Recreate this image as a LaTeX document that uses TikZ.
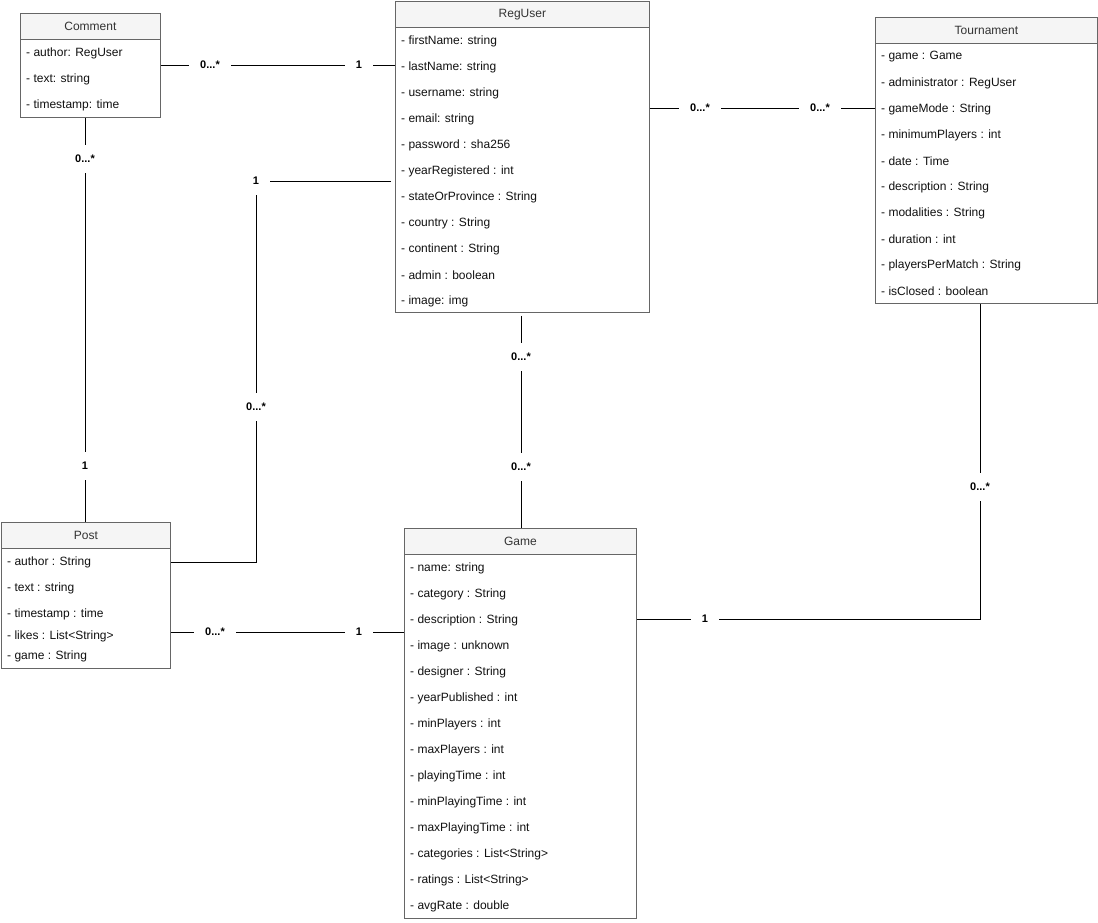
\documentclass[tikz,border=0pt]{standalone}
\usepackage{fontspec}
\setmainfont{Liberation Sans}
\definecolor{boxc}{HTML}{666666}
\definecolor{hdrc}{HTML}{F5F5F5}
\definecolor{hdrtxt}{HTML}{333333}
\definecolor{attrtxt}{HTML}{111111}
\tikzset{
  umlbox/.style={draw=boxc, line width=0.8pt, anchor=north west, inner sep=0pt, fill=white},
  umlhdr/.style={draw=boxc, line width=0.8pt, fill=hdrc, anchor=north west, minimum height=26pt, inner sep=0pt, text=hdrtxt, font=\fontsize{12}{14}\selectfont},
  umlattr/.style={anchor=west, inner sep=1pt, yshift=-1pt, text=attrtxt, font=\fontsize{12}{14}\selectfont},
  mult/.style={fill=white, inner xsep=11pt, inner ysep=10pt, font=\fontsize{11}{13}\selectfont\bfseries},
  conn/.style={draw=black, line width=0.8pt}
}
\begin{document}
\begin{tikzpicture}[x=1pt,y=-1pt]
\useasboundingbox (0,0) rectangle (1098,922);

% ---- Comment
\node[umlbox, minimum width=140pt, minimum height=104pt] (comment) at (20,13) {};
\node[umlhdr, minimum width=140pt] (commentH) at (20,13) {Comment};
\foreach \t [count=\i from 0] in {- author: RegUser, - text: string, - timestamp: time}
  \node[umlattr] (comment-\i) at (25,52+26*\i) {\t};

% ---- RegUser
\node[umlbox, minimum width=254pt, minimum height=311pt] (reguser) at (395,1) {};
\node[umlhdr, minimum width=254pt] (reguserH) at (395,1) {RegUser};
\foreach \t [count=\i from 0] in {- firstName: string, - lastName: string, - username: string, - email: string, - password : sha256, - yearRegistered : int, - stateOrProvince : String, - country : String, - continent : String, - admin : boolean, - image: img}
  \node[umlattr] (reguser-\i) at (400,40+26*\i) {\t};

% ---- Tournament
\node[umlbox, minimum width=222pt, minimum height=286pt] (tour) at (875,17) {};
\node[umlhdr, minimum width=222pt] (tourH) at (875,17) {Tournament};
\foreach \t [count=\i from 0] in {- game : Game, - administrator : RegUser, - gameMode : String, - minimumPlayers : int, - date : Time, - description : String, - modalities : String, - duration : int, - playersPerMatch : String, - isClosed : boolean}
  \node[umlattr] (tour-\i) at (880,56+26*\i) {\t};

% ---- Post
\node[umlbox, minimum width=169pt, minimum height=146pt] (post) at (1,522) {};
\node[umlhdr, minimum width=169pt] (postH) at (1,522) {Post};
\foreach \y/\t [count=\i from 0] in {561/- author : String, 587/- text : string, 613/- timestamp : time, 635/- likes : List<String>, 655/- game : String}
  \node[umlattr] (post-\i) at (6,\y) {\t};

% ---- Game
\node[umlbox, minimum width=232pt, minimum height=390pt] (game) at (404,528) {};
\node[umlhdr, minimum width=232pt] (gameH) at (404,528) {Game};
\foreach \t [count=\i from 0] in {- name: string, - category : String, - description : String, - image : unknown, - designer : String, - yearPublished : int, - minPlayers : int, - maxPlayers : int, - playingTime : int, - minPlayingTime : int, - maxPlayingTime : int, - categories : List<String>, - ratings : List<String>, - avgRate : double}
  \node[umlattr] (game-\i) at (409,567+26*\i) {\t};

% ---- helper coordinates
\coordinate (yCR) at (0,65);
\coordinate (yRT) at (0,108);
\coordinate (xRG) at (521,0);
\coordinate (xCP) at (85,0);
\coordinate (yPG) at (0,632);
\coordinate (cGT) at (980,619);
\coordinate (cRP) at (256,181);
\coordinate (yRP) at (0,562);

% ---- connectors
\draw[conn] (comment.east |- yCR) -- (reguser.west |- yCR);
\draw[conn] (comment.south -| xCP) -- (post.north -| xCP);
\draw[conn, shorten <=4pt] (reguser.west |- cRP) -- (cRP) |- (post.east |- yRP);
\draw[conn] (reguser.east |- yRT) -- (tour.west |- yRT);
\draw[conn, shorten <=3pt] (reguser.south -| xRG) -- (game.north -| xRG);
\draw[conn] (post.east |- yPG) -- (game.west |- yPG);
\draw[conn] (game.east |- cGT) -- (cGT) -- (tour.south -| cGT);

% ---- multiplicities
\node[mult] (m1) at (210,65) {0...*};
\node[mult] (m2) at (359,65) {1};
\node[mult] (m3) at (85,159) {0...*};
\node[mult] (m4) at (85,466) {1};
\node[mult] (m5) at (256,181) {1};
\node[mult] (m6) at (256,407) {0...*};
\node[mult] (m7) at (700,108) {0...*};
\node[mult] (m8) at (820,108) {0...*};
\node[mult] (m9) at (521,357) {0...*};
\node[mult] (m10) at (521,467) {0...*};
\node[mult] (m11) at (215,632) {0...*};
\node[mult] (m12) at (359,632) {1};
\node[mult] (m13) at (705,619) {1};
\node[mult] (m14) at (980,487) {0...*};
\end{tikzpicture}
\end{document}
